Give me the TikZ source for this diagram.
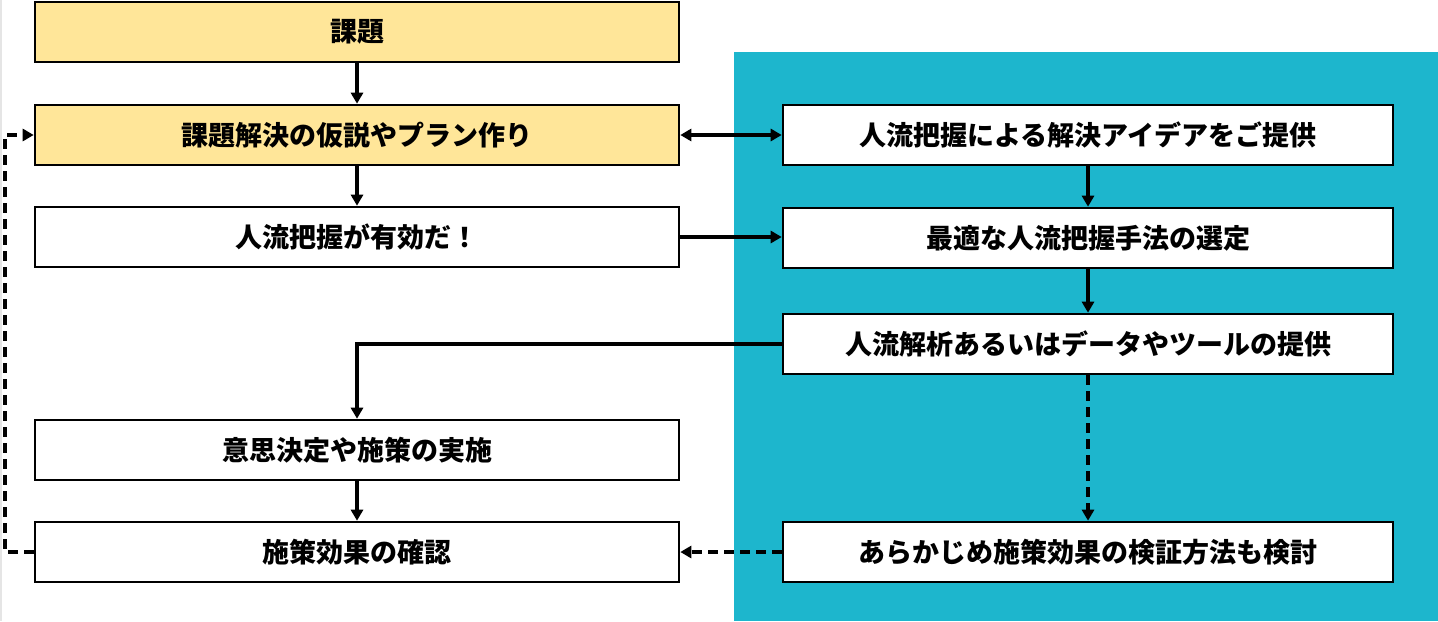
\documentclass[tikz,border=0pt]{standalone}
\usepackage{fontspec}
\newfontfamily\jpfont{Noto Sans CJK JP}
\usetikzlibrary{arrows.meta}
\definecolor{kiiro}{HTML}{FFE699}
\definecolor{aoiro}{HTML}{1DB6CD}

\begin{document}
\begin{tikzpicture}[x=0.5pt,y=0.5pt,yscale=-1,xscale=1,
    box/.style={draw,line width=1.3pt,fill=white,minimum height=30pt,inner sep=0pt,
      font=\jpfont\bfseries\fontsize{13.5}{16}\selectfont},
    lbox/.style={box,minimum width=322pt},
    rbox/.style={box,minimum width=305pt},
    tip/.tip={Triangle[length=5.5pt,width=6pt]},
    arr/.style={line width=2pt,-tip},
    darr/.style={arr,dash pattern={on 5pt off 3pt}}]
  \useasboundingbox (0,0) rectangle (1438,621);
  \fill [gray!20] (0,0) rectangle (2,621);
  \fill [aoiro] (734,52) rectangle (1438,621);
  % left column
  \node [lbox,fill=kiiro] (kadai) at (357,32) {課題};
  \node [lbox,fill=kiiro] (kasetsu) at (357,135) {課題解決の仮説やプラン作り};
  \node [lbox] (yuko) at (357,237) {人流把握が有効だ！};
  \node [lbox] (ishi) at (357,450) {意思決定や施策の実施};
  \node [lbox] (kakunin) at (357,552) {施策効果の確認};
  % right column
  \node [rbox] (teian) at (1088,135) {人流把握による解決アイデアをご提供};
  \node [rbox] (sentei) at (1088,238) {最適な人流把握手法の選定};
  \node [rbox] (kaiseki) at (1088,344) {人流解析あるいはデータやツールの提供};
  \node [rbox] (kento) at (1088,552) {あらかじめ施策効果の検証方法も検討};
  \coordinate (modori) at (5,552);
  % connectors
  \draw [arr] (kadai) -- (kasetsu);
  \draw [arr] (kasetsu) -- (yuko);
  \draw [arr,tip-tip] (kasetsu) -- (teian);
  \draw [arr] (yuko.east) -- (yuko.east -| sentei.west);
  \draw [arr] (teian) -- (sentei);
  \draw [arr] (sentei) -- (kaiseki);
  \draw [arr] (kaiseki.west) -| (ishi.north);
  \draw [arr] (ishi) -- (kakunin);
  \draw [darr] (kaiseki) -- (kento);
  \draw [darr] (kento) -- (kakunin);
  \draw [darr] (kakunin.west) -- (modori) |- (kasetsu.west);
\end{tikzpicture}
\end{document}
